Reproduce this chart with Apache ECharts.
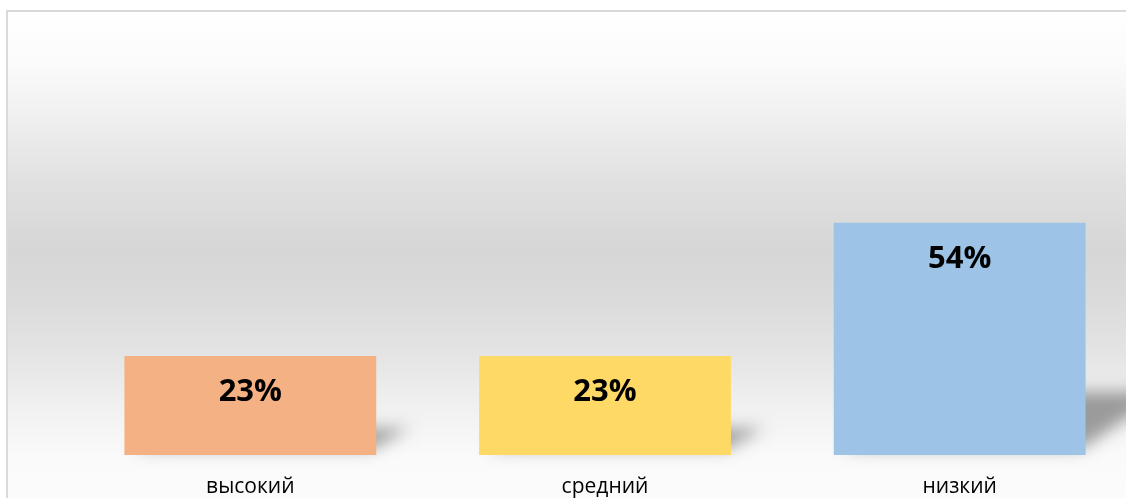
<!DOCTYPE html>
<html>
<head>
<meta charset="utf-8">
<script src="https://cdn.jsdelivr.net/npm/echarts@6/dist/echarts.min.js"></script>
<style>html,body{margin:0;padding:0;background:#fff;overflow:hidden;width:1126px;height:498px;}#c{width:1137px;height:498px;}</style>
</head>
<body>
<div id="c"></div>
<script>
const categories = ['высокий', 'средний', 'низкий'];
const values = [23, 23, 54];
const barColors = ['#F4B183', '#FFD966', '#9DC3E6'];

const chart = echarts.init(document.getElementById('c'), null, {renderer: 'canvas'});

const shadowData = values.map((v, i) => [i, v]);
const OFF = 3000;

const option = {
  animation: false,
  backgroundColor: '#ffffff',
  graphic: [{
    type: 'rect',
    z: -10,
    silent: true,
    shape: {x: 7, y: 11, width: 1150, height: 510},
    style: {
      fill: new echarts.graphic.LinearGradient(0, 0, 0, 1, [
        {offset: 0.0, color: '#ffffff'},
        {offset: 0.1, color: '#fbfbfb'},
        {offset: 0.2, color: '#f1f1f1'},
        {offset: 0.33, color: '#e1e1e1'},
        {offset: 0.47, color: '#d6d6d6'},
        {offset: 0.57, color: '#dbdbdb'},
        {offset: 0.67, color: '#e4e4e4'},
        {offset: 0.77, color: '#f0f0f0'},
        {offset: 0.87, color: '#fafafa'},
        {offset: 1.0, color: '#fcfcfc'}
      ]),
      stroke: '#d9d9d9',
      lineWidth: 2
    }
  }],
  grid: {left: 73, right: 0, top: 197, bottom: 43, containLabel: false},
  xAxis: {
    type: 'category',
    data: categories,
    axisLine: {show: false},
    axisTick: {show: false},
    axisLabel: {
      margin: 22,
      fontSize: 21,
      fontFamily: 'Open Sans',
      color: '#000000'
    }
  },
  yAxis: {
    type: 'value',
    min: 0,
    max: 60,
    show: false,
    splitLine: {show: false}
  },
  series: [
    {
      type: 'custom',
      z: 1,
      silent: true,
      clip: false,
      data: shadowData,
      renderItem: function (params, api) {
        const i = api.value(0);
        const v = api.value(1);
        const base = api.coord([i, 0]);
        const top = api.coord([i, v]);
        const w = api.size([1, 0])[0] * 0.71;
        const xL = base[0] - w / 2;
        const xR = base[0] + w / 2;
        const h = base[1] - top[1];
        const t = h * 0.27;
        const s = t * 1.25;
        return {
          type: 'polygon',
          shape: {points: [
            [xL + 10 - OFF, base[1] - 6],
            [xR - 4 - OFF, base[1] - 6],
            [xR + s - OFF, base[1] - t],
            [xL + s + 10 - OFF, base[1] - t]
          ]},
          style: {
            fill: '#000',
            shadowBlur: 16,
            shadowOffsetX: OFF,
            shadowOffsetY: 0,
            shadowColor: 'rgba(0,0,0,0.36)'
          }
        };
      }
    },
    {
      type: 'bar',
      z: 2,
      barWidth: '71%',
      data: values.map((v, i) => ({value: v, itemStyle: {color: barColors[i]}})),
      label: {
        show: true,
        position: 'insideTop',
        distance: 21,
        formatter: '{c}%',
        fontSize: 31,
        fontWeight: 'bold',
        fontFamily: 'Open Sans',
        color: '#000000'
      }
    }
  ]
};
chart.setOption(option);
</script>
</body>
</html>
